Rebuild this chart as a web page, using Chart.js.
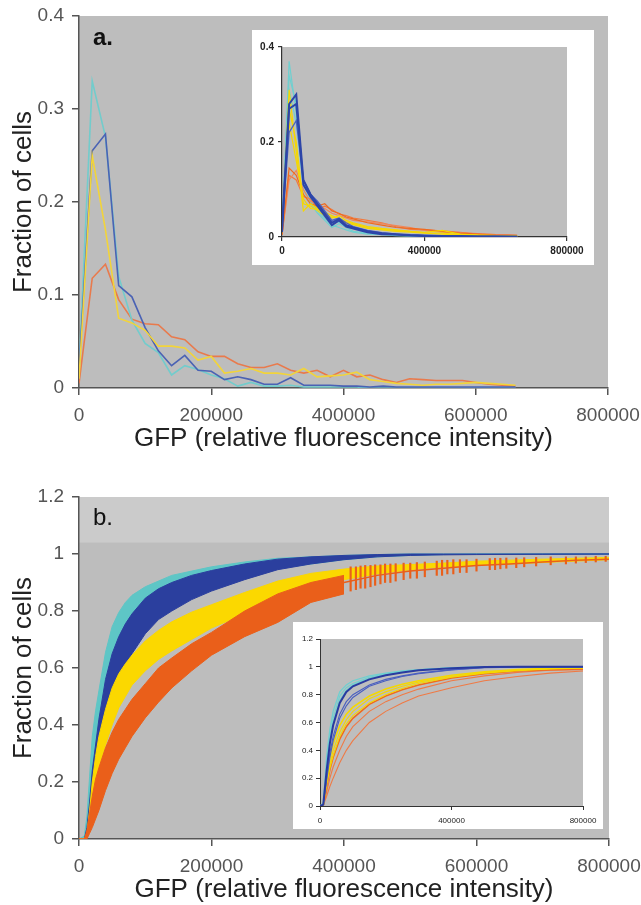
<!DOCTYPE html>
<html>
<head>
<meta charset="utf-8">
<script src="https://cdn.jsdelivr.net/npm/chart.js@4.4.1/dist/chart.umd.min.js"></script>
<style>
  body { margin: 0; background: #fff; }
  #wrap { position: relative; width: 641px; height: 905px; overflow: hidden; font-family: "Liberation Sans", Arial, sans-serif; }
  canvas { position: absolute; }
  .inset { background: #fff; }
  .panel { position: absolute; font-size: 24px; line-height: 1; color: #111; }
</style>
</head>
<body>
<div id="wrap">
  <canvas id="mainA" width="641" height="454" style="left:0;top:0"></canvas>
  <canvas id="insetA" class="inset" width="342" height="235" style="left:252px;top:30px"></canvas>
  <canvas id="mainB" width="641" height="425" style="left:0;top:480px"></canvas>
  <canvas id="insetB" class="inset" width="310" height="207" style="left:293px;top:622px"></canvas>
  <div class="panel" style="left:93px;top:25px;font-weight:bold">a.</div>
  <div class="panel" style="left:93px;top:505px">b.</div>
</div>
<script>
// ---- panel a: histogram (fraction of cells per GFP bin) ----
const xsA = [0, 20000, 40000, 60000, 80000, 100000, 120000, 140000, 160000, 180000, 200000, 220000, 240000, 260000, 280000, 300000, 320000, 340000, 360000, 380000, 400000, 420000, 440000, 460000, 480000, 500000, 520000, 540000, 560000, 580000, 600000, 620000, 640000, 660000];
const cyanA = [0.02, 0.33, 0.27, 0.12, 0.073, 0.048, 0.038, 0.014, 0.024, 0.02, 0.014, 0.01, 0.002, 0.006, 0.002, 0.002, 0.003, 0.001, 0.001, 0.001, 0.001, 0.001, 0, 0, 0, 0, 0, 0, 0, 0, 0, 0, 0, 0];
const blueA = [0.02, 0.255, 0.273, 0.11, 0.098, 0.065, 0.04, 0.024, 0.035, 0.019, 0.018, 0.009, 0.012, 0.009, 0.004, 0.004, 0.011, 0.003, 0.003, 0.003, 0.002, 0.002, 0.001, 0.002, 0.001, 0.001, 0.001, 0.001, 0.001, 0.001, 0.001, 0.001, 0.001, 0.001];
const yellowA = [0.01, 0.25, 0.17, 0.075, 0.07, 0.062, 0.045, 0.045, 0.043, 0.03, 0.034, 0.016, 0.018, 0.021, 0.016, 0.016, 0.014, 0.021, 0.012, 0.013, 0.014, 0.017, 0.009, 0.007, 0.005, 0.004, 0.003, 0.004, 0.004, 0.005, 0.006, 0.005, 0.004, 0.003];
const orangeA = [0.005, 0.118, 0.133, 0.095, 0.074, 0.069, 0.068, 0.055, 0.052, 0.039, 0.034, 0.034, 0.026, 0.022, 0.022, 0.026, 0.019, 0.016, 0.019, 0.012, 0.019, 0.012, 0.014, 0.009, 0.006, 0.01, 0.009, 0.008, 0.008, 0.008, 0.006, 0.004, 0.003, 0.002];

// inset a: single replicates
const xsInA = [0, 20000, 40000, 60000, 80000, 100000, 120000, 140000, 160000, 180000, 200000, 240000, 280000, 320000, 360000, 400000, 450000, 500000, 550000, 600000, 660000];
const cyanInA1 = [0.01, 0.37, 0.26, 0.10, 0.07, 0.05, 0.035, 0.02, 0.028, 0.02, 0.012, 0.008, 0.006, 0.004, 0.003, 0.002, 0.001, 0.001, 0, 0, 0];
const cyanInA2 = [0.02, 0.34, 0.28, 0.12, 0.075, 0.055, 0.04, 0.025, 0.02, 0.015, 0.01, 0.006, 0.005, 0.003, 0.002, 0.002, 0.001, 0.001, 0.001, 0, 0];
const cyanInA3 = [0.01, 0.31, 0.24, 0.11, 0.08, 0.06, 0.045, 0.03, 0.032, 0.022, 0.018, 0.01, 0.007, 0.005, 0.004, 0.002, 0.002, 0.001, 0.001, 0.001, 0];
const blueInA1 = [0.02, 0.28, 0.30, 0.12, 0.09, 0.07, 0.05, 0.03, 0.038, 0.025, 0.02, 0.012, 0.008, 0.006, 0.004, 0.003, 0.002, 0.002, 0.001, 0.001, 0.001];
const blueInA2 = [0.01, 0.27, 0.28, 0.11, 0.085, 0.065, 0.045, 0.025, 0.035, 0.022, 0.018, 0.01, 0.006, 0.005, 0.003, 0.002, 0.002, 0.001, 0.001, 0.001, 0];
const blueInA3 = [0.02, 0.22, 0.245, 0.12, 0.09, 0.075, 0.055, 0.035, 0.04, 0.03, 0.022, 0.014, 0.009, 0.006, 0.004, 0.003, 0.002, 0.002, 0.001, 0.001, 0.001];
const yellowInA1 = [0.01, 0.31, 0.18, 0.055, 0.07, 0.06, 0.05, 0.04, 0.045, 0.035, 0.03, 0.022, 0.018, 0.015, 0.012, 0.01, 0.014, 0.006, 0.004, 0.003, 0.002];
const yellowInA2 = [0.01, 0.27, 0.2, 0.07, 0.065, 0.055, 0.045, 0.042, 0.04, 0.032, 0.028, 0.02, 0.016, 0.014, 0.012, 0.009, 0.008, 0.005, 0.004, 0.003, 0.002];
const yellowInA3 = [0.02, 0.24, 0.16, 0.08, 0.06, 0.058, 0.052, 0.045, 0.038, 0.03, 0.026, 0.018, 0.015, 0.012, 0.01, 0.008, 0.006, 0.004, 0.003, 0.002, 0.002];
const orangeInA1 = [0.005, 0.145, 0.13, 0.09, 0.07, 0.065, 0.07, 0.055, 0.05, 0.042, 0.038, 0.03, 0.025, 0.02, 0.018, 0.016, 0.012, 0.008, 0.006, 0.004, 0.003];
const orangeInA2 = [0.005, 0.12, 0.14, 0.1, 0.075, 0.068, 0.06, 0.05, 0.045, 0.04, 0.035, 0.032, 0.028, 0.024, 0.02, 0.014, 0.01, 0.009, 0.007, 0.005, 0.003];
const orangeInA3 = [0.005, 0.13, 0.12, 0.085, 0.08, 0.06, 0.065, 0.058, 0.048, 0.045, 0.04, 0.035, 0.03, 0.022, 0.016, 0.015, 0.013, 0.01, 0.006, 0.005, 0.004];

// ---- panel b: cumulative fraction, shown as low/high bands ----
const xsB = [0, 8000, 12000, 16000, 20000, 25000, 30000, 40000, 50000, 60000, 70000, 80000, 100000, 120000, 140000, 170000, 200000, 250000, 300000, 350000, 400000, 450000, 500000, 550000, 600000, 700000, 800000];
const cyanHi = [0, 0.01, 0.08, 0.22, 0.36, 0.45, 0.52, 0.655, 0.745, 0.795, 0.83, 0.855, 0.885, 0.905, 0.925, 0.94, 0.955, 0.972, 0.985, 0.99, 0.995, 0.998, 1, 1, 1, 1, 1];
const cyanLo = [0, 0, 0.04, 0.15, 0.25, 0.33, 0.4, 0.5, 0.58, 0.64, 0.69, 0.72, 0.77, 0.81, 0.84, 0.87, 0.9, 0.93, 0.95, 0.965, 0.98, 0.99, 0.995, 0.998, 1, 1, 1];
const blueHi = [0, 0, 0.04, 0.13, 0.24, 0.33, 0.42, 0.56, 0.65, 0.71, 0.755, 0.79, 0.845, 0.878, 0.9, 0.925, 0.942, 0.965, 0.982, 0.99, 0.995, 0.998, 1, 1, 1, 1, 1];
const blueLo = [0, 0, 0.02, 0.08, 0.15, 0.23, 0.3, 0.41, 0.49, 0.56, 0.61, 0.65, 0.72, 0.77, 0.8, 0.84, 0.87, 0.91, 0.945, 0.965, 0.98, 0.99, 0.995, 0.997, 0.998, 0.999, 1];
const yellowHi = [0, 0, 0.02, 0.1, 0.2, 0.29, 0.36, 0.455, 0.53, 0.58, 0.615, 0.645, 0.695, 0.732, 0.762, 0.796, 0.822, 0.865, 0.905, 0.932, 0.947, 0.958, 0.963, 0.968, 0.975, 0.982, 0.988];
const yellowLo = [0, 0, 0.01, 0.05, 0.12, 0.19, 0.25, 0.33, 0.4, 0.46, 0.5, 0.54, 0.59, 0.63, 0.66, 0.7, 0.74, 0.79, 0.84, 0.88, 0.91, 0.93, 0.945, 0.955, 0.96, 0.97, 0.98];
const orangeHi = [0, 0, 0.03, 0.09, 0.15, 0.21, 0.25, 0.32, 0.375, 0.42, 0.455, 0.49, 0.545, 0.6, 0.635, 0.685, 0.725, 0.8, 0.86, 0.9, 0.925];
const orangeLo = [0, 0, 0, 0.02, 0.04, 0.07, 0.1, 0.17, 0.23, 0.28, 0.32, 0.36, 0.425, 0.48, 0.53, 0.59, 0.645, 0.71, 0.76, 0.83, 0.86];
const xsOrangeTail = [400000, 450000, 500000, 550000, 600000, 650000, 700000, 750000, 800000];
const orangeTail = [0.9, 0.925, 0.94, 0.95, 0.96, 0.965, 0.972, 0.978, 0.982];
const orangeBarX = [410000, 418000, 425000, 432000, 440000, 447000, 455000, 462000, 470000, 478000, 490000, 500000, 510000, 522000, 540000, 548000, 556000, 565000, 575000, 585000, 600000, 620000, 628000, 636000, 645000, 660000, 672000, 690000, 712000, 735000, 750000, 765000, 780000, 795000];
const orangeBarLo = [0.87, 0.875, 0.88, 0.88, 0.885, 0.89, 0.895, 0.9, 0.9, 0.905, 0.91, 0.915, 0.915, 0.92, 0.925, 0.925, 0.93, 0.93, 0.935, 0.935, 0.94, 0.945, 0.945, 0.948, 0.95, 0.952, 0.955, 0.958, 0.962, 0.965, 0.968, 0.97, 0.972, 0.974];
const orangeBarHi = [0.955, 0.955, 0.958, 0.96, 0.96, 0.962, 0.962, 0.965, 0.965, 0.966, 0.968, 0.968, 0.97, 0.972, 0.975, 0.978, 0.978, 0.98, 0.98, 0.98, 0.982, 0.984, 0.985, 0.985, 0.986, 0.986, 0.987, 0.988, 0.99, 0.99, 0.99, 0.99, 0.992, 0.992];

// inset b: single replicate CDFs
const xsInB = [0, 10000, 20000, 30000, 40000, 60000, 80000, 100000, 150000, 200000, 250000, 300000, 400000, 500000, 600000, 700000, 800000];
const cyanInB1 = [0, 0.02, 0.35, 0.55, 0.68, 0.82, 0.87, 0.9, 0.935, 0.955, 0.97, 0.98, 0.995, 1, 1, 1, 1];
const cyanInB2 = [0, 0.02, 0.3, 0.5, 0.63, 0.79, 0.85, 0.88, 0.925, 0.95, 0.965, 0.978, 0.993, 0.999, 1, 1, 1];
const cyanInB3 = [0, 0.01, 0.28, 0.47, 0.6, 0.76, 0.83, 0.87, 0.92, 0.945, 0.962, 0.975, 0.99, 0.998, 1, 1, 1];
const blueInB1 = [0, 0.01, 0.25, 0.45, 0.58, 0.74, 0.82, 0.86, 0.91, 0.94, 0.96, 0.975, 0.99, 0.998, 1, 1, 1];
const blueInB2 = [0, 0.01, 0.2, 0.38, 0.5, 0.66, 0.75, 0.8, 0.87, 0.91, 0.935, 0.955, 0.98, 0.995, 0.999, 1, 1];
const blueInB3 = [0, 0.01, 0.18, 0.35, 0.47, 0.63, 0.72, 0.78, 0.86, 0.9, 0.93, 0.95, 0.978, 0.993, 0.998, 1, 1];
const yellowInB1 = [0, 0.01, 0.2, 0.35, 0.45, 0.58, 0.66, 0.71, 0.79, 0.84, 0.875, 0.9, 0.94, 0.965, 0.98, 0.99, 0.995];
const yellowInB2 = [0, 0.01, 0.17, 0.3, 0.4, 0.53, 0.62, 0.68, 0.77, 0.82, 0.86, 0.89, 0.93, 0.96, 0.975, 0.987, 0.993];
const yellowInB3 = [0, 0.01, 0.15, 0.27, 0.36, 0.5, 0.59, 0.65, 0.74, 0.8, 0.845, 0.88, 0.925, 0.955, 0.972, 0.985, 0.99];
const orangeInB1 = [0, 0.01, 0.14, 0.26, 0.35, 0.48, 0.57, 0.63, 0.73, 0.79, 0.835, 0.87, 0.92, 0.95, 0.97, 0.98, 0.985];
const orangeInB2 = [0, 0.005, 0.1, 0.2, 0.28, 0.4, 0.5, 0.57, 0.68, 0.75, 0.8, 0.84, 0.9, 0.935, 0.96, 0.975, 0.98];
const orangeInB3 = [0, 0.005, 0.07, 0.14, 0.2, 0.31, 0.4, 0.47, 0.6, 0.68, 0.74, 0.79, 0.85, 0.9, 0.93, 0.955, 0.97];

const FONT = "'Liberation Sans', Arial, sans-serif";
const pts = (xs, ys) => ys.map((y, i) => ({ x: xs[i], y }));

// gray plot area, optional lighter strip at the top
const plotBg = {
  id: "plotBg",
  beforeDraw(chart, args, opts) {
    const { ctx, chartArea: a, scales } = chart;
    ctx.save();
    ctx.fillStyle = opts.color;
    ctx.fillRect(a.left, a.top, a.right - a.left, a.bottom - a.top);
    if (opts.bandFrom != null) {
      const yb = scales.y.getPixelForValue(opts.bandFrom);
      ctx.fillStyle = opts.bandColor;
      ctx.fillRect(a.left, a.top, a.right - a.left, yb - a.top);
    }
    ctx.restore();
  },
};

function line(data, color, width, order) {
  return { type: "line", data, borderColor: color, borderWidth: width, pointRadius: 0, tension: 0, fill: false, order: order || 0 };
}

function scales(o) {
  const axisColor = o.axisColor;
  const common = (size, bold) => ({ family: FONT, size, weight: bold ? "bold" : "normal" });
  return {
    x: {
      type: "linear", min: 0, max: 800000, offset: false,
      ticks: { stepSize: o.xStep, callback: v => String(v), font: common(o.tickSize, o.bold), color: o.tickColor, padding: o.xPad, maxRotation: 0, autoSkip: false },
      grid: { display: true, drawOnChartArea: false, offset: false, tickLength: o.tickLen, color: axisColor, lineWidth: o.axisWidth },
      border: { display: true, color: axisColor, width: o.axisWidth },
      title: o.titles ? { display: true, text: "GFP (relative fluorescence intensity)", font: common(26), color: "#222", padding: { top: 0, bottom: 0 } } : { display: false },
      afterFit: s => { s.height = o.xHeight; s.paddingLeft = 0; s.paddingRight = 0; },
    },
    y: {
      type: "linear", min: 0, max: o.yMax,
      ticks: { stepSize: o.yStep, callback: v => String(Math.round(v * 10) / 10), font: common(o.tickSize, o.bold), color: o.tickColor, padding: o.yPad },
      grid: { display: true, drawOnChartArea: false, tickLength: o.tickLen, color: axisColor, lineWidth: o.axisWidth },
      border: { display: true, color: axisColor, width: o.axisWidth },
      title: o.titles ? { display: true, text: "Fraction of cells", font: common(26), color: "#222", padding: { top: 8, bottom: 0 } } : { display: false },
      afterFit: s => { s.width = o.yWidth; s.paddingTop = 0; s.paddingBottom = 0; },
    },
  };
}

function makeChart(id, datasets, sc, padding, bg) {
  return new Chart(document.getElementById(id), {
    type: "line",
    data: { datasets },
    options: {
      responsive: false, animation: false, devicePixelRatio: 1,
      layout: { padding },
      plugins: { legend: { display: false }, tooltip: { enabled: false }, plotBg: bg },
      scales: sc,
    },
    plugins: [plotBg],
  });
}

const mainOpts = { axisColor: "#555", axisWidth: 1.5, tickColor: "#555", tickSize: 19, bold: false, tickLen: 7, xPad: 9, yPad: 8, xHeight: 66, yWidth: 79, xStep: 200000, titles: true };

// panel a main
makeChart("mainA", [
  line(pts(xsA, blueA), "#4a62b4", 1.6, 1),
  line(pts(xsA, cyanA), "#72cccc", 1.6, 2),
  line(pts(xsA, yellowA), "#f2d43a", 1.6, 0),
  line(pts(xsA, orangeA), "#e97a4c", 1.6, 3),
], scales({ ...mainOpts, yMax: 0.4, yStep: 0.1 }), { top: 16, right: 33, left: 0, bottom: 0 }, { color: "#bdbdbd" });

// panel a inset
makeChart("insetA", [
  line(pts(xsInA, cyanInA1), "#6fd0d0", 1.2, 5),
  line(pts(xsInA, cyanInA2), "#6fd0d0", 1.2, 5),
  line(pts(xsInA, cyanInA3), "#6fd0d0", 1.2, 5),
  line(pts(xsInA, orangeInA1), "#f06a1e", 1.2, 4),
  line(pts(xsInA, orangeInA2), "#f0875a", 1.2, 4),
  line(pts(xsInA, orangeInA3), "#f07a40", 1.2, 4),
  line(pts(xsInA, yellowInA1), "#f5d800", 1.2, 3),
  line(pts(xsInA, yellowInA2), "#f5d800", 1.2, 3),
  line(pts(xsInA, yellowInA3), "#f5d800", 1.2, 3),
  line(pts(xsInA, blueInA1), "#2d45a8", 2, 1),
  line(pts(xsInA, blueInA2), "#2d45a8", 2, 1),
  line(pts(xsInA, blueInA3), "#4a62c0", 1.3, 2),
], scales({ axisColor: "#333", axisWidth: 1.2, tickColor: "#222", tickSize: 10, bold: true, tickLen: 4, xPad: 4, yPad: 4, xHeight: 28, yWidth: 30, xStep: 400000, yMax: 0.4, yStep: 0.2, titles: false }),
  { top: 17, right: 27, left: 0, bottom: 0 }, { color: "#bebebe" });

// panel b main: bands between low and high curves
function band(lo, hi, xs, color, order) {
  return [
    { ...line(pts(xs, lo), color, 1, order) },
    { ...line(pts(xs, hi), color, 1, order), fill: "-1", backgroundColor: color },
  ];
}
makeChart("mainB", [
  ...band(cyanLo, cyanHi, xsB, "#5ec6c6", 4),
  ...band(blueLo, blueHi, xsB, "#2b3f9e", 3),
  ...band(yellowLo, yellowHi, xsB, "#fbd800", 2),
  ...band(orangeLo, orangeHi, xsB.slice(0, orangeHi.length), "#ea5f1a", 1),
  line(pts(xsOrangeTail, orangeTail), "#ea5f1a", 1.5, 0),
  {
    type: "bar", order: 0, barThickness: 1.5, backgroundColor: "#ea5f1a",
    data: orangeBarX.map((x, i) => ({ x, y: [orangeBarLo[i], orangeBarHi[i]] })),
  },
], scales({ ...mainOpts, yMax: 1.2, yStep: 0.2 }), { top: 17, right: 32, left: 0, bottom: 0 },
  { color: "#bdbdbd", bandFrom: 1.04, bandColor: "#cbcbcb" });

// panel b inset
makeChart("insetB", [
  line(pts(xsInB, orangeInB3), "#ef7a45", 1.1, 6),
  line(pts(xsInB, orangeInB2), "#ef7a45", 1.1, 6),
  line(pts(xsInB, orangeInB1), "#f06a1e", 1.6, 5),
  line(pts(xsInB, yellowInB3), "#f5d800", 1.1, 4),
  line(pts(xsInB, yellowInB2), "#f5d800", 1.1, 4),
  line(pts(xsInB, yellowInB1), "#f5d800", 1.6, 4),
  line(pts(xsInB, cyanInB1), "#6fd0d0", 1.3, 3),
  line(pts(xsInB, cyanInB2), "#6fd0d0", 1.1, 3),
  line(pts(xsInB, cyanInB3), "#6fd0d0", 1.1, 3),
  line(pts(xsInB, blueInB3), "#4a5fc0", 1.1, 2),
  line(pts(xsInB, blueInB2), "#4a5fc0", 1.1, 2),
  line(pts(xsInB, blueInB1), "#2a3aa0", 2, 1),
], scales({ axisColor: "#333", axisWidth: 1, tickColor: "#222", tickSize: 8, bold: false, tickLen: 4, xPad: 6, yPad: 3, xHeight: 23, yWidth: 27, xStep: 400000, yMax: 1.2, yStep: 0.2, titles: false }),
  { top: 17, right: 20, left: 0, bottom: 0 }, { color: "#bebebe" });
</script>
</body>
</html>
